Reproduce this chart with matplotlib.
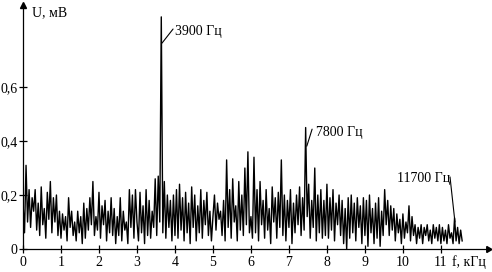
import numpy as np
import matplotlib
matplotlib.use('Agg')
import matplotlib.pyplot as plt

plt.rcParams['font.family'] = ['Liberation Serif', 'DejaVu Serif']
plt.rcParams['font.size'] = 10

# spectrum amplitude, mV, sampled every 0.04 kHz starting at 0 kHz
step_khz = 0.04
u_mv = [
    # 0-1 kHz
    0.17, 0.06, 0.31, 0.10, 0.22, 0.08, 0.19, 0.14, 0.22, 0.07, 0.17, 0.05, 0.23,
    0.09, 0.15, 0.04, 0.21, 0.11, 0.25, 0.06, 0.19, 0.10, 0.20, 0.05, 0.14,
    # 1-2 kHz
    0.04, 0.13, 0.07, 0.12, 0.03, 0.19, 0.08, 0.14, 0.05, 0.10, 0.03, 0.14, 0.06,
    0.12, 0.02, 0.17, 0.04, 0.15, 0.07, 0.19, 0.09, 0.25, 0.05, 0.12, 0.07,
    # 2-3 kHz
    0.21, 0.04, 0.16, 0.09, 0.18, 0.03, 0.14, 0.06, 0.19, 0.05, 0.15, 0.02, 0.12,
    0.05, 0.19, 0.03, 0.14, 0.07, 0.10, 0.02, 0.22, 0.08, 0.20, 0.04, 0.22,
    # 3-4 kHz
    0.10, 0.03, 0.21, 0.06, 0.16, 0.02, 0.22, 0.05, 0.18, 0.04, 0.14, 0.08, 0.26,
    0.05, 0.27, 0.10, 0.86, 0.06, 0.25, 0.04, 0.20, 0.08, 0.18, 0.03, 0.20,
    # 4-5 kHz
    0.05, 0.22, 0.04, 0.24, 0.07, 0.19, 0.03, 0.21, 0.06, 0.17, 0.02, 0.23, 0.08,
    0.20, 0.03, 0.16, 0.06, 0.22, 0.04, 0.18, 0.09, 0.21, 0.05, 0.14, 0.03,
    # 5-6 kHz
    0.12, 0.20, 0.07, 0.17, 0.11, 0.14, 0.05, 0.18, 0.03, 0.33, 0.08, 0.22, 0.04,
    0.26, 0.10, 0.16, 0.03, 0.25, 0.07, 0.20, 0.05, 0.30, 0.09, 0.36, 0.06,
    # 6-7 kHz
    0.12, 0.04, 0.34, 0.06, 0.22, 0.03, 0.25, 0.09, 0.18, 0.04, 0.22, 0.07, 0.15,
    0.02, 0.23, 0.10, 0.19, 0.04, 0.21, 0.08, 0.33, 0.05, 0.20, 0.03, 0.18,
    # 7-8 kHz
    0.08, 0.22, 0.02, 0.17, 0.06, 0.20, 0.09, 0.23, 0.05, 0.19, 0.07, 0.45, 0.12,
    0.24, 0.04, 0.18, 0.08, 0.30, 0.03, 0.20, 0.06, 0.22, 0.04, 0.18, 0.05,
    # 8-9 kHz
    0.24, 0.04, 0.19, 0.07, 0.22, 0.03, 0.17, 0.09, 0.20, 0.05, 0.18, 0.02, 0.15,
    0.00, 0.19, 0.04, 0.20, 0.06, 0.17, 0.03, 0.19, 0.08, 0.16, 0.02, 0.19,
    # 9-10 kHz
    0.05, 0.18, 0.01, 0.20, 0.06, 0.15, 0.02, 0.17, 0.04, 0.19, 0.01, 0.14, 0.05,
    0.22, 0.09, 0.18, 0.05, 0.16, 0.07, 0.15, 0.03, 0.13, 0.06, 0.11, 0.02,
    # 10-11 kHz
    0.13, 0.04, 0.10, 0.06, 0.16, 0.03, 0.12, 0.05, 0.09, 0.02, 0.08, 0.04, 0.09,
    0.02, 0.08, 0.05, 0.09, 0.03, 0.07, 0.02, 0.09, 0.04, 0.08, 0.03, 0.09,
    # 11-11.56 kHz
    0.02, 0.08, 0.03, 0.07, 0.02, 0.09, 0.04, 0.06, 0.02, 0.115, 0.03, 0.08, 0.02,
    0.07, 0.03,
]
f_khz = np.arange(len(u_mv)) * step_khz

x_ticks = list(range(12))
y_ticks = [0, 0.2, 0.4, 0.6]
y_tick_labels = ['0', '0,2', '0,4', '0,6']

# harmonic labels: (text, line start, line end, text position)
harmonics = [
    ('3900 Гц', (3.95, 0.815), (3.66, 0.763), (4.0, 0.807)),
    ('7800 Гц', (7.61, 0.444), (7.47, 0.381), (7.71, 0.433)),
    ('11700 Гц', (11.24, 0.267), (11.37, 0.10), (9.84, 0.262)),
]

fig = plt.figure(figsize=(4.92, 2.72), dpi=100)
ax = fig.add_axes([23 / 492, 23 / 272, 465 / 492, 244 / 272])

ax.plot(f_khz, u_mv, color='black', linewidth=1.0)

ax.set_xlim(0, 12.24)
ax.set_ylim(0, 0.904)
ax.spines['top'].set_visible(False)
ax.spines['right'].set_visible(False)
for s in ['left', 'bottom']:
    ax.spines[s].set_linewidth(0.9)

ax.set_xticks(x_ticks)
ax.set_xticklabels([str(t) for t in x_ticks])
ax.set_yticks(y_ticks)
ax.set_yticklabels(y_tick_labels)
ax.tick_params(direction='inout', length=6, width=0.9, pad=2, labelsize=10)
ax.tick_params(axis='y', pad=1)

# axis arrows
ax.plot(1, 0, marker=(3, 0, -90), color='black', markersize=5,
        transform=ax.transAxes, clip_on=False)
ax.plot(0, 1, marker='^', color='black', markersize=4,
        transform=ax.transAxes, clip_on=False)

ax.text(0.25, 0.875, 'U, мВ', fontsize=10, ha='left', va='center')
ax.text(11.3, -0.05, 'f, кГц', fontsize=10, ha='left', va='center')

for label, start, end, pos in harmonics:
    ax.annotate('', xy=end, xytext=start,
                arrowprops=dict(arrowstyle='-', color='black', lw=0.8,
                                shrinkA=0, shrinkB=0))
    ax.text(pos[0], pos[1], label, fontsize=10, ha='left', va='center')

fig.savefig('out.png', dpi=100)
